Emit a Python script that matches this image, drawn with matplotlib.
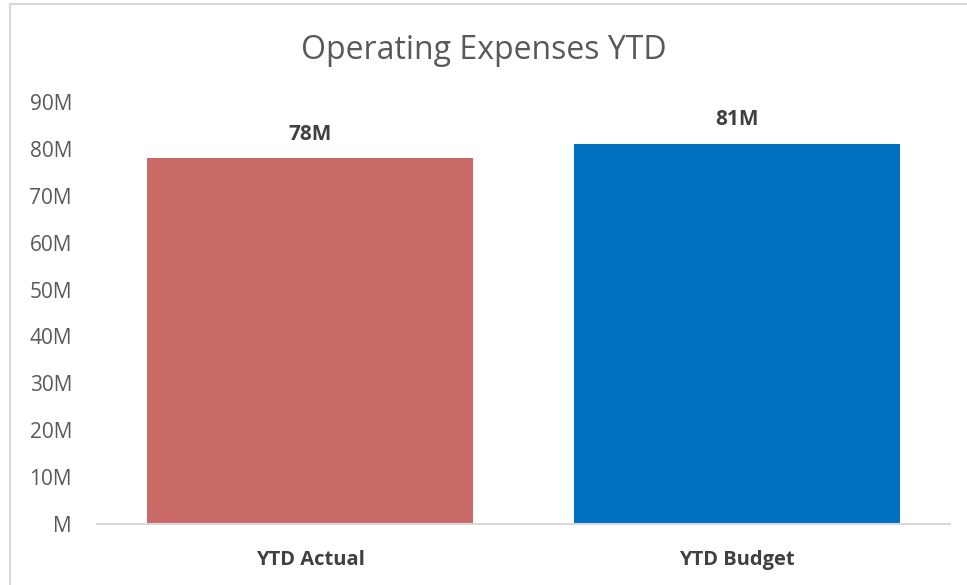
import matplotlib
matplotlib.use("Agg")
import matplotlib.pyplot as plt
from matplotlib.lines import Line2D

categories = ["YTD Actual", "YTD Budget"]
values_m = [78, 81]
bar_colors = ["#C96A67", "#0070C0"]
y_ticks = [0, 10, 20, 30, 40, 50, 60, 70, 80, 90]
y_tick_labels = ["M"] + [f"{v}M" for v in y_ticks[1:]]

FONT = ["Open Sans", "DejaVu Sans"]
TEXT = "#595959"

fig = plt.figure(figsize=(9.67, 5.85), dpi=100)
ax = fig.add_axes([97 / 967, 1 - 524 / 585, (950 - 97) / 967, (524 - 102) / 585])

x = list(range(len(categories)))
ax.bar(x, values_m, width=0.765, color=bar_colors)
for xi, v in zip(x, values_m):
    ax.text(xi, v + 4.0, f"{v}M", ha="center", va="baseline", fontsize=15,
            fontweight="bold", color="#404040", family=FONT)

ax.set_xlim(-0.5, 1.5)
ax.set_ylim(0, 90)
ax.set_yticks(y_ticks)
ax.set_yticklabels(y_tick_labels, family=FONT, fontsize=15, color=TEXT)
ax.set_xticks(x)
ax.set_xticklabels(categories, family=FONT, fontsize=14.5, fontweight="bold", color="#404040")
ax.tick_params(axis="both", length=0)
ax.tick_params(axis="y", pad=18)
ax.tick_params(axis="x", pad=19)

for s in ["top", "right", "left"]:
    ax.spines[s].set_visible(False)
ax.spines["bottom"].set_color("#D9D9D9")
ax.spines["bottom"].set_linewidth(1.5)

fig.text(0.5, 1 - 59 / 585, "Operating Expenses YTD", ha="center", va="baseline",
         fontsize=23, color=TEXT, family=FONT)

# chart border (Excel chart area)
fig.add_artist(Line2D([10 / 967, 1], [1 - 4 / 585, 1 - 4 / 585], transform=fig.transFigure,
                      color="#D9D9D9", lw=1.5))
fig.add_artist(Line2D([10 / 967, 10 / 967], [0, 1 - 4 / 585], transform=fig.transFigure,
                      color="#D9D9D9", lw=1.5))

fig.savefig("out.png", dpi=100)
plt.close(fig)
